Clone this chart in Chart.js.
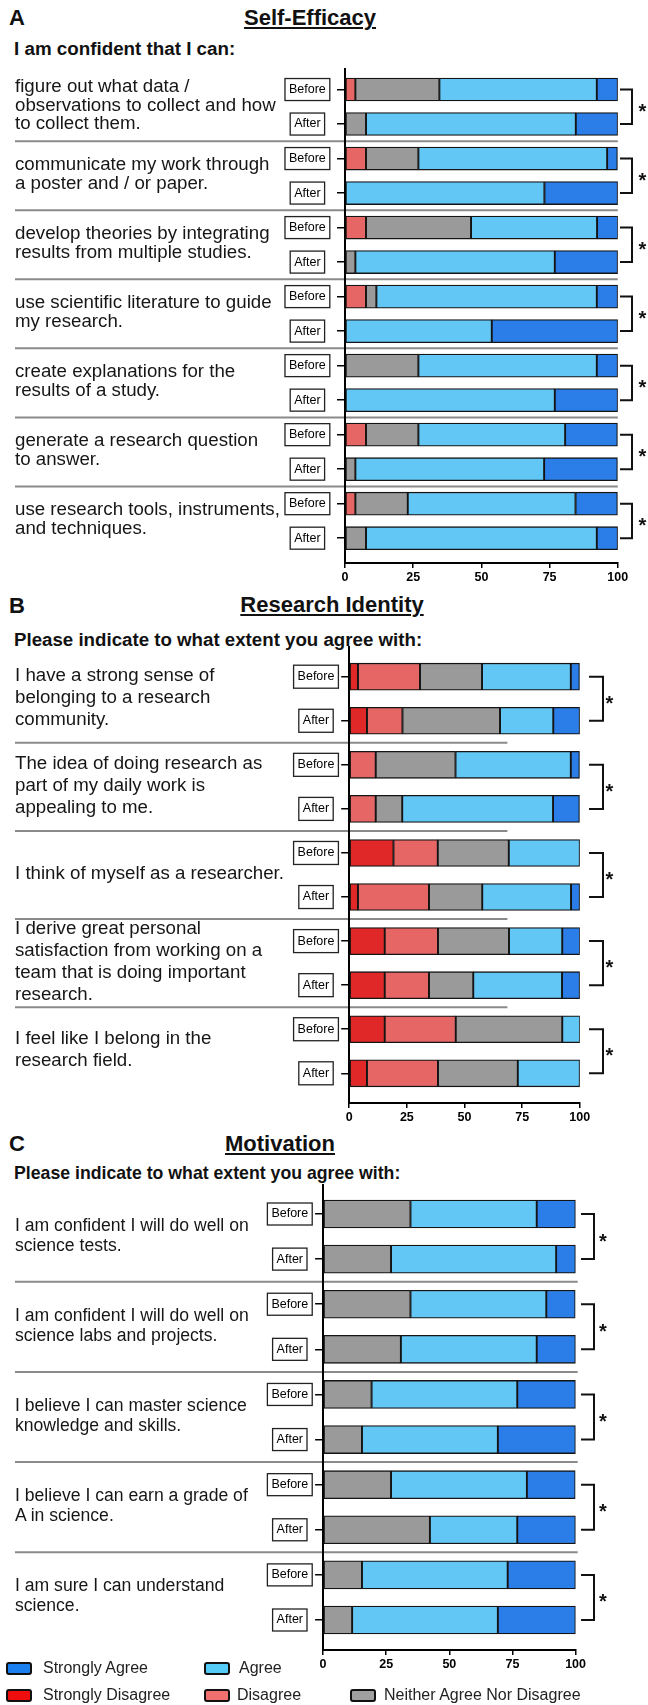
<!DOCTYPE html>
<html>
<head>
<meta charset="utf-8">
<title>Self-Efficacy, Research Identity, Motivation</title>
<script src="https://cdn.jsdelivr.net/npm/chart.js@4.4.1/dist/chart.umd.min.js"></script>
<style>
  body { margin: 0; background: #fff; font-family: "Liberation Sans", Arial, sans-serif; color: #111; }
  #page { position: relative; width: 648px; height: 1705px; overflow: hidden; }
  canvas { position: absolute; left: 0; }
  .t { position: absolute; white-space: pre; font-weight: bold; }
  .letter { left: 9px; font-size: 22px; line-height: 22px; }
  .title { font-size: 22px; line-height: 22px; text-decoration: underline; text-decoration-thickness: 2px; text-underline-offset: 2px; transform: translateX(-50%); }
  .sub { left: 14px; }
  .q { position: absolute; left: 15px; white-space: pre; z-index: 2; color: #161616; }
  .sw { position: absolute; width: 26px; height: 13px; border: 2.5px solid #111; border-radius: 3px; box-sizing: border-box; }
  .lg { position: absolute; font-size: 16px; line-height: 16px; color: #222; }
</style>
</head>
<body>
<div id="page">
  <div class="t letter" style="top:7px">A</div>
  <div class="t title" style="left:310px;top:7px">Self-Efficacy</div>
  <div class="t sub" style="top:39px;font-size:18.8px;line-height:19px">I am confident that I can:</div>
  <canvas id="chartA" width="648" height="538" style="top:50px"></canvas>

  <div class="t letter" style="top:595px">B</div>
  <div class="t title" style="left:332px;top:594px">Research Identity</div>
  <div class="t sub" style="top:630px;font-size:18.7px;line-height:19px">Please indicate to what extent you agree with:</div>
  <canvas id="chartB" width="648" height="496" style="top:632px"></canvas>

  <div class="t letter" style="top:1133px">C</div>
  <div class="t title" style="left:280px;top:1133px">Motivation</div>
  <div class="t sub" style="top:1164px;font-size:17.7px;line-height:18px">Please indicate to what extent you agree with:</div>
  <canvas id="chartC" width="648" height="505" style="top:1170px"></canvas>

  <div class="sw" style="left:6px;top:1662px;background:#1a80f0"></div>
  <div class="lg" style="left:43px;top:1660px">Strongly Agree</div>
  <div class="sw" style="left:204px;top:1662px;background:#55ccf8"></div>
  <div class="lg" style="left:239px;top:1660px">Agree</div>
  <div class="sw" style="left:6px;top:1689px;background:#f00d0d"></div>
  <div class="lg" style="left:43px;top:1687px">Strongly Disagree</div>
  <div class="sw" style="left:204px;top:1689px;background:#f07070"></div>
  <div class="lg" style="left:237px;top:1687px">Disagree</div>
  <div class="sw" style="left:350px;top:1689px;background:#a0a0a0"></div>
  <div class="lg" style="left:384px;top:1687px">Neither Agree Nor Disagree</div>
</div>

<script>
// x axis ticks (percent of respondents)
const xTicks = [0, 25, 50, 75, 100];

// Panel A - Self-Efficacy
const rowsA = ['Before', 'After', 'Before', 'After', 'Before', 'After', 'Before', 'After',
               'Before', 'After', 'Before', 'After', 'Before', 'After'];
const questionsA = [
  'figure out what data /\nobservations to collect and how\nto collect them.',
  'communicate my work through\na poster and / or paper.',
  'develop theories by integrating\nresults from multiple studies.',
  'use scientific literature to guide\nmy research.',
  'create explanations for the\nresults of a study.',
  'generate a research question\nto answer.',
  'use research tools, instruments,\nand techniques.'
];
const sdA = [0, 0, 0, 0, 0, 0, 0, 0, 0, 0, 0, 0, 0, 0];
const dA  = [3.8, 0, 7.7, 0, 7.7, 0, 7.7, 0, 0, 0, 7.7, 0, 3.8, 0];
const nA  = [30.8, 7.7, 19.2, 0, 38.5, 3.8, 3.8, 0, 26.9, 0, 19.2, 3.8, 19.2, 7.7];
const agA = [57.7, 76.9, 69.2, 73.1, 46.2, 73.1, 80.8, 53.8, 65.4, 76.9, 53.8, 69.2, 61.5, 84.6];
const saA = [7.7, 15.4, 3.8, 26.9, 7.7, 23.1, 7.7, 46.2, 7.7, 23.1, 19.2, 26.9, 15.4, 7.7];
const sigA = ['*', '*', '*', '*', '*', '*', '*'];

// Panel B - Research Identity
const rowsB = ['Before', 'After', 'Before', 'After', 'Before', 'After', 'Before', 'After', 'Before', 'After'];
const questionsB = [
  'I have a strong sense of\nbelonging to a research\ncommunity.',
  'The idea of doing research as\npart of my daily work is\nappealing to me.',
  'I think of myself as a researcher.',
  'I derive great personal\nsatisfaction from working on a\nteam that is doing important\nresearch.',
  'I feel like I belong in the\nresearch field.'
];
const sdB = [3.8, 7.7, 0, 0, 19.2, 3.8, 15.4, 15.4, 15.4, 7.7];
const dB  = [26.9, 15.4, 11.5, 11.5, 19.2, 30.8, 23.1, 19.2, 30.8, 30.8];
const nB  = [26.9, 42.3, 34.6, 11.5, 30.8, 23.1, 30.8, 19.2, 46.2, 34.6];
const agB = [38.5, 23.1, 50.0, 65.4, 30.8, 38.5, 23.1, 38.5, 7.7, 26.9];
const saB = [3.8, 11.5, 3.8, 11.5, 0, 3.8, 7.7, 7.7, 0, 0];
const sigB = ['*', '*', '*', '*', '*'];

// Panel C - Motivation
const rowsC = ['Before', 'After', 'Before', 'After', 'Before', 'After', 'Before', 'After', 'Before', 'After'];
const questionsC = [
  'I am confident I will do well on\nscience tests.',
  'I am confident I will do well on\nscience labs and projects.',
  'I believe I can master science\nknowledge and skills.',
  'I believe I can earn a grade of\nA in science.',
  'I am sure I can understand\nscience.'
];
const sdC = [0, 0, 0, 0, 0, 0, 0, 0, 0, 0];
const dC  = [0, 0, 0, 0, 0, 0, 0, 0, 0, 0];
const nC  = [34.6, 26.9, 34.6, 30.8, 19.2, 15.4, 26.9, 42.3, 15.4, 11.5];
const agC = [50.0, 65.4, 53.8, 53.8, 57.7, 53.8, 53.8, 34.6, 57.7, 57.7];
const saC = [15.4, 7.7, 11.5, 15.4, 23.1, 30.8, 19.2, 23.1, 26.9, 30.8];
const sigC = ['*', '*', '*', '*', '*'];

const FONT = '"Liberation Sans", Arial, sans-serif';
const colors = {
  sd: '#e02828',
  d: '#e66565',
  n: '#9a9a9a',
  a: '#63c7f6',
  sa: '#2b7ee8'
};

// separators, Before/After boxes, significance brackets
function decorFor(p) {
  return {
    id: 'decor',
    beforeDraw(chart) {
      const ctx = chart.ctx, y = chart.scales.y;
      ctx.save();
      ctx.strokeStyle = '#8a8a8a';
      ctx.lineWidth = 2;
      for (let k = 0; k < p.questions.length - 1; k++) {
        const yy = y.getPixelForValue(2 * k + 1.5);
        ctx.beginPath();
        ctx.moveTo(15, yy);
        ctx.lineTo(p.sepEnd, yy);
        ctx.stroke();
      }
      ctx.restore();
    },
    afterDraw(chart) {
      const ctx = chart.ctx, y = chart.scales.y;
      ctx.save();
      ctx.font = '12.5px ' + FONT;
      ctx.strokeStyle = '#222';
      ctx.lineWidth = 1.3;
      p.rows.forEach((r, i) => {
        const w = ctx.measureText(r).width + 8;
        const yy = y.getPixelForValue(i);
        ctx.strokeRect(p.labelX - w / 2, yy - p.boxH / 2, w, p.boxH);
      });
      ctx.strokeStyle = '#111';
      ctx.lineWidth = 2;
      ctx.fillStyle = '#111';
      ctx.font = 'bold 20px ' + FONT;
      ctx.textAlign = 'center';
      p.sig.forEach((s, k) => {
        const y0 = y.getPixelForValue(2 * k), y1 = y.getPixelForValue(2 * k + 1);
        ctx.beginPath();
        ctx.moveTo(p.brX0, y0);
        ctx.lineTo(p.brX1, y0);
        ctx.lineTo(p.brX1, y1);
        ctx.lineTo(p.brX0, y1);
        ctx.stroke();
        ctx.fillText(s, p.starX, (y0 + y1) / 2 + 11);
      });
      ctx.restore();
    }
  };
}

function buildPanel(p) {
  const canvas = document.getElementById(p.id);
  const m = canvas.getContext('2d');
  m.font = '12.5px ' + FONT;
  const widest = Math.max(...p.rows.map(r => m.measureText(r).width));
  const tickPad = p.axisLeft - 8 - p.labelX - widest / 2;

  const series = [
    ['Strongly Disagree', p.sd, colors.sd],
    ['Disagree', p.d, colors.d],
    ['Neither Agree Nor Disagree', p.n, colors.n],
    ['Agree', p.a, colors.a],
    ['Strongly Agree', p.sa, colors.sa]
  ];

  const chart = new Chart(canvas, {
    type: 'bar',
    data: {
      datasets: series.map(([label, vals, color]) => ({
        label: label,
        data: vals.map((v, i) => ({ x: v, y: i })),
        backgroundColor: color,
        borderColor: '#141414',
        borderWidth: 1.3,
        borderSkipped: false,
        barThickness: p.barH
      }))
    },
    options: {
      indexAxis: 'y',
      responsive: false,
      animation: false,
      layout: { padding: { top: 15, right: 648 - p.axisRight, bottom: 0, left: 0 } },
      plugins: { legend: { display: false }, tooltip: { enabled: false } },
      scales: {
        x: {
          type: 'linear', min: 0, max: 100, stacked: true,
          afterFit: s => { s.height = 25; },
          afterBuildTicks: s => { s.ticks = xTicks.map(v => ({ value: v })); },
          ticks: { color: '#000', padding: 2, font: { family: FONT, size: 12.5, weight: 'bold' } },
          grid: { drawOnChartArea: false, color: '#000', lineWidth: 1.5, tickLength: 5 },
          border: { color: '#000', width: 2 }
        },
        y: {
          type: 'linear', reverse: true, min: p.yMin, max: p.yMax, stacked: true,
          bounds: 'data', offset: false,
          afterFit: s => { s.width = p.axisLeft; },
          afterBuildTicks: s => { s.ticks = p.rows.map((_, i) => ({ value: i })); },
          ticks: {
            autoSkip: false, crossAlign: 'center', padding: tickPad, color: '#000',
            font: { family: FONT, size: 12.5 },
            callback: v => p.rows[v]
          },
          grid: { offset: false, drawOnChartArea: false, color: '#000', lineWidth: 1.5, tickLength: 8 },
          border: { color: '#000', width: 2 }
        }
      }
    },
    plugins: [decorFor(p)]
  });

  // question texts, centred on each Before/After pair
  const page = document.getElementById('page');
  const y = chart.scales.y;
  p.questions.forEach((q, k) => {
    const mid = (y.getPixelForValue(2 * k) + y.getPixelForValue(2 * k + 1)) / 2 + p.top;
    const lines = q.split('\n').length;
    const div = document.createElement('div');
    div.className = 'q';
    div.style.fontSize = p.qSize + 'px';
    div.style.lineHeight = p.qLine + 'px';
    div.style.top = (mid - lines * p.qLine / 2 - 2) + 'px';
    div.textContent = q;
    page.appendChild(div);
  });
}

buildPanel({
  id: 'chartA', top: 50, rows: rowsA, questions: questionsA, sig: sigA,
  sd: sdA, d: dA, n: nA, a: agA, sa: saA,
  axisLeft: 345, axisRight: 617.8, yMin: -0.604, yMax: 13.719, barH: 23,
  labelX: 307.4, boxH: 22, sepEnd: 617.8, brX0: 620, brX1: 632, starX: 642.5,
  qSize: 18.7, qLine: 18.5
});

buildPanel({
  id: 'chartB', top: 632, rows: rowsB, questions: questionsB, sig: sigB,
  sd: sdB, d: dB, n: nB, a: agB, sa: saB,
  axisLeft: 349.2, axisRight: 579.8, yMin: -0.674, yMax: 9.674, barH: 27,
  labelX: 316, boxH: 23, sepEnd: 507.4, brX0: 589, brX1: 603, starX: 609.5,
  qSize: 18.7, qLine: 22
});

buildPanel({
  id: 'chartC', top: 1170, rows: rowsC, questions: questionsC, sig: sigC,
  sd: sdC, d: dC, n: nC, a: agC, sa: saC,
  axisLeft: 323.1, axisRight: 575.6, yMin: -0.643, yMax: 9.665, barH: 28,
  labelX: 289.8, boxH: 22, sepEnd: 577.7, brX0: 581, brX1: 594, starX: 603,
  qSize: 17.6, qLine: 20
});
</script>
</body>
</html>
